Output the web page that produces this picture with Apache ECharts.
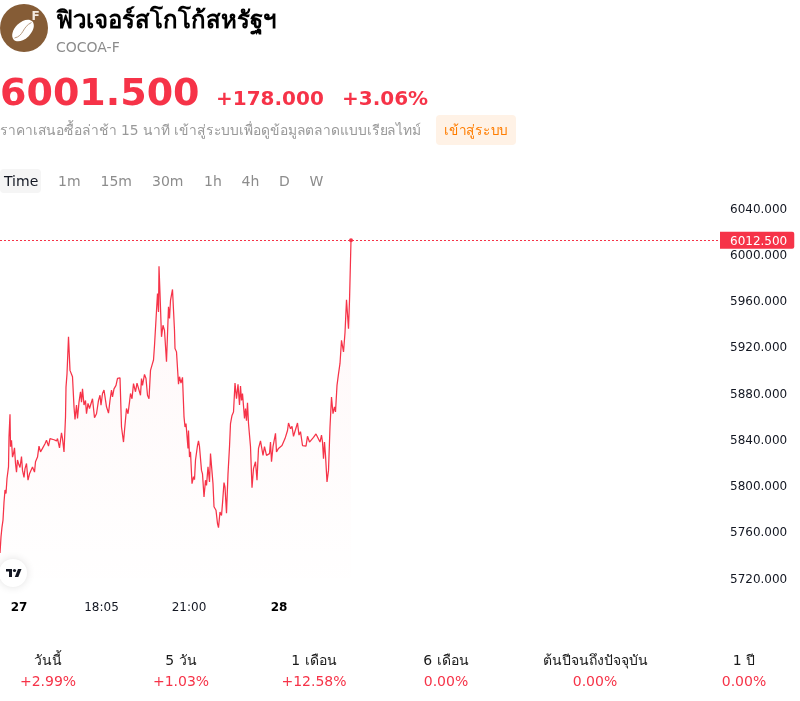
<!DOCTYPE html>
<html><head><meta charset="utf-8">
<style>html,body{margin:0;padding:0;background:#fff}#c{width:800px;height:701px}</style>
<script src="https://cdn.jsdelivr.net/npm/echarts@6/dist/echarts.min.js"></script>
</head><body><div id="c"></div>
<script>
// Minutes since midnight of the 27th
const minutes = [882,884,886,888,890,892,894,896,899,900,902,903,905,907,909,911,913,915,917,919,922,925,927,930,932,935,938,941,944,947,951,953,957,960,963,967,972,975,979,982,986,990,995,997,1001,1005,1007,1010,1013,1014,1016,1019,1022,1025,1027,1030,1032,1035,1037,1040,1043,1045,1047,1050,1053,1055,1058,1061,1064,1067,1071,1075,1079,1082,1084,1087,1090,1093,1095,1099,1102,1105,1107,1110,1114,1117,1122,1125,1129,1131,1135,1138,1141,1143,1146,1149,1153,1156,1159,1163,1165,1167,1171,1174,1177,1180,1183,1186,1189,1191,1194,1197,1199,1200,1202,1205,1208,1211,1215,1219,1221,1223,1227,1231,1232,1235,1239,1241,1242,1244,1247,1250,1252,1254,1258,1259,1261,1263,1266,1269,1271,1273,1277,1279,1281,1282,1285,1287,1290,1293,1295,1298,1301,1303,1305,1308,1310,1314,1317,1319,1322,1325,1327,1330,1332,1335,1338,1341,1343,1346,1349,1352,1355,1358,1361,1363,1365,1367,1371,1373,1375,1377,1379,1383,1386,1389,1391,1393,1396,1399,1403,1405,1408,1411,1415,1421,1423,1425,1428,1431,1433,1435,1439,1443,1446,1449,1452,1457,1459,1463,1466,1469,1472,1477,1480,1483,1487,1490,1494,1497,1501,1505,1509,1514,1518,1522,1525,1527,1529,1531,1533,1536,1539,1542,1545,1548,1551,1553,1556,1559,1562,1565,1569,1572,1575,1579,1581,1584];
const prices = [5742,5756,5764.5,5770.5,5786,5796.5,5793.5,5806.5,5816.5,5842.5,5862,5834,5839.5,5825,5828,5833,5819.5,5812,5822.5,5819.5,5816,5825.5,5813.5,5807.5,5815,5819.5,5805,5810.5,5811.5,5816.5,5812,5821,5825,5834.5,5829.5,5832.5,5836.5,5839.5,5834.5,5841,5839.5,5840,5839,5841,5833,5846,5841,5829.5,5859.5,5885.5,5897,5929,5900,5901.5,5894.5,5868.5,5857.5,5870,5858.5,5872.5,5881.5,5872.5,5884,5870,5874,5862.5,5871.5,5867,5868.5,5875.5,5859,5862.5,5874,5878.5,5870,5880,5883,5884,5868.5,5863,5874,5883,5877,5884,5887,5893,5893.5,5851,5838,5848,5867,5862.5,5872.5,5880,5875.5,5888.5,5881.5,5889,5889,5878.5,5893,5887,5896.5,5893,5878.5,5875.5,5900,5904.5,5909,5921.5,5923,5966.5,5950.5,5990,5966.5,5929,5939,5934.5,5907.5,5955,5945,5960.5,5970,5934.5,5919,5916,5888,5894.5,5893,5889,5894,5860,5851,5854,5832.5,5848,5825,5829.5,5802,5808,5805.5,5822.5,5835,5839,5834,5835,5813.5,5810.5,5790.5,5805,5800.5,5816.5,5803.5,5828,5829,5802,5782,5779,5767.5,5764,5777.5,5774.5,5785,5803,5799,5776.5,5810.5,5834,5854,5861,5864,5889,5875.5,5888,5870,5886.5,5874,5880,5858.5,5867,5856.5,5872,5854,5834,5798.5,5815,5816.5,5821,5805,5832.5,5839,5834,5826.5,5834,5826.5,5828,5838,5821,5834,5841,5845.5,5829.5,5832.5,5831,5835,5834,5841,5848,5854.5,5849.5,5851.5,5843,5844,5854.5,5844,5847,5835,5836.5,5834.5,5843,5838,5839.5,5842,5845,5845.5,5838,5844,5838,5823.5,5838,5826.5,5803.5,5813.5,5851,5877,5862.5,5868.5,5864,5887,5897,5906,5926,5916,5932.5,5961,5936,5960.5,6012.5];
const xTickMinutes = [920,1085,1260,1440];
const xTickLabels = ['27','18:05','21:00','28'];
const xTickBold = ['27','28'];
const yMin = 5720, yMax = 6040, yStep = 40;
const lastLabelPrice = 6012.5;

const titleText = 'ฟิวเจอร์สโกโก้สหรัฐฯ';
const symbolText = 'COCOA-F';
const priceText = '6001.500';
const changeText = '+178.000';
const changePctText = '+3.06%';
const delayText = 'ราคาเสนอซื้อล่าช้า 15 นาที เข้าสู่ระบบเพื่อดูข้อมูลตลาดแบบเรียลไทม์';
const loginText = 'เข้าสู่ระบบ';
const tabs = ['Time','1m','15m','30m','1h','4h','D','W'];
const tabX = [4,58,100.5,152,204,241.5,279,309.5];
const periodNames = ['วันนี้','5 วัน','1 เดือน','6 เดือน','ต้นปีจนถึงปัจจุบัน','1 ปี'];
const periodValues = ['+2.99%','+1.03%','+12.58%','0.00%','0.00%','0.00%'];
const periodX = [48,181,314,446,595,744];

const RED = '#f63348', FF = '"DejaVu Sans", "Noto Sans", sans-serif';
const txt = (text, x, y, size, fill, opt = {}) => ({
  type: 'text', silent: true, z: 10,
  x: opt.scaleX ? x : 0, y: 0, scaleX: opt.scaleX || 1,
  style: { text, x: opt.scaleX ? 0 : x, y, fill, font: `${opt.bold ? 'bold ' : ''}${size}px ${FF}`,
    align: opt.align || 'left', verticalAlign: 'middle' }
});

const graphics = [
  { type:'circle', shape:{cx:24,cy:28,r:24}, style:{fill:'#855c36'} },
  { type:'ellipse', x:23, y:30.5, rotation:0.78, shape:{cx:0,cy:0,rx:13,ry:8}, style:{fill:'#fff'}, z:2 },
  { type:'bezierCurve', shape:{x1:14.5,y1:38,cpx1:24,cpy1:36,cpx2:22,cpy2:27,x2:31.5,y2:22.5},
    style:{stroke:'#b79a80',fill:null,lineWidth:1}, z:3 },
  txt('F',35.5,17,12,'#f3e9df',{bold:true,align:'center'}),
  txt(titleText,56,21.5,24,'#000',{bold:true}),
  txt(symbolText,56,48,14,'#8c8c8c'),
  txt(priceText,0,95,38,RED,{bold:true}),
  txt(changeText,216,100,20,RED,{bold:true}),
  txt(changePctText,342,100,20,RED,{bold:true}),
  txt(delayText,0,131,14,'#999',{scaleX:0.988}),
  { type:'rect', shape:{x:436,y:115,width:80,height:30,r:4}, style:{fill:'#fff2e6'} },
  txt(loginText,476,131,14,'#ff7d00',{align:'center',scaleX:0.97}),
  { type:'rect', shape:{x:0,y:169,width:41,height:24,r:4}, style:{fill:'#f5f5f5'} },
  ...tabs.map((t,i)=>txt(t,tabX[i],182,14,i===0?'#131722':'#8c8c8c')),
  ...periodNames.map((t,i)=>txt(t,periodX[i],661,14,'#1a1a1a',{align:'center'})),
  ...periodValues.map((t,i)=>txt(t,periodX[i],682,14,RED,{align:'center'})),
  { type:'circle', shape:{cx:13,cy:573,r:14}, style:{fill:'#fff',shadowBlur:8,shadowColor:'rgba(0,0,0,0.12)'}, z:20 },
  { type:'polygon', shape:{points:[[6,569],[12,569],[12,577],[9,577],[9,571.5],[6,571.5]]}, style:{fill:'#131722'}, z:21 },
  { type:'circle', shape:{cx:14.5,cy:570.5,r:1.6}, style:{fill:'#131722'}, z:21 },
  { type:'polygon', shape:{points:[[18,569],[21.5,569],[18.3,577],[14.8,577]]}, style:{fill:'#131722'}, z:21 }
];

const chart = echarts.init(document.getElementById('c'), null, {renderer:'canvas'});
const gridLeft = 0, gridWidth = 718;
chart.setOption({
  animation: false,
  backgroundColor: '#fff',
  textStyle: { fontFamily: FF },
  grid: { left: gridLeft, width: gridWidth, top: 208.5, height: 370 },
  xAxis: {
    type: 'value', min: minutes[0], max: minutes[0] + gridWidth * 2,
    axisLine: {show:false}, axisTick: {show:false}, splitLine: {show:false},
    axisLabel: {
      customValues: xTickMinutes, margin: 23, fontSize: 12, color: '#131722',
      formatter: v => {
        const s = xTickLabels[xTickMinutes.indexOf(v)] || '';
        return xTickBold.includes(s) ? `{b|${s}}` : s;
      },
      rich: { b: { fontWeight: 'bold', fontSize: 12, color: '#000', fontFamily: FF } }
    }
  },
  yAxis: {
    type: 'value', position: 'right', min: yMin, max: yMax, interval: yStep,
    axisLine: {show:false}, axisTick: {show:false}, splitLine: {show:false},
    axisLabel: { margin: 12, formatter: v => `{a|${v.toFixed(3)}}`,
      rich: { a: { fontSize: 12, color: '#131722', fontFamily: FF, padding: [2,0,0,0] } } }
  },
  series: [{
    type: 'line', silent: true, showSymbol: false, smooth: false,
    data: minutes.map((m,i)=>[m,prices[i]]),
    lineStyle: { color: RED, width: 1.25 },
    itemStyle: { color: RED },
    areaStyle: { color: new echarts.graphic.LinearGradient(0,0,0,1,[
      {offset:0,color:'rgba(246,51,72,0.06)'},{offset:1,color:'rgba(246,51,72,0.005)'}]) },
    markLine: {
      silent: true, symbol: 'none', animation: false,
      lineStyle: { color: RED, width: 1, type: [2,2] },
      label: {
        position: 'end', distance: 2, backgroundColor: RED, padding: [2,7,1,10],
        borderRadius: [0,2,2,0], align: 'left', formatter: p => `{a|${p.value.toFixed(3)}}`,
        rich: { a: { color: '#fff', fontSize: 12, fontFamily: FF, padding: [2,0,0,0] } }
      },
      data: [{ yAxis: lastLabelPrice }]
    },
    markPoint: {
      silent: true, symbol: 'circle', symbolSize: 4, animation: false,
      itemStyle: { color: RED }, label: {show:false},
      data: [{ coord: [minutes[minutes.length-1], prices[prices.length-1]] }]
    }
  }],
  graphic: { elements: graphics }
});
</script></body></html>
